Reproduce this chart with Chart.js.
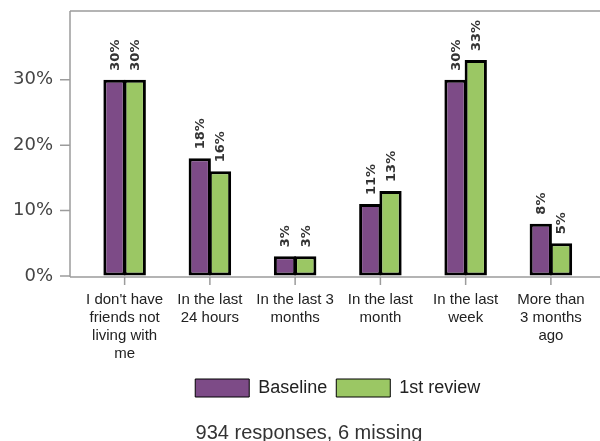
<!DOCTYPE html>
<html>
<head>
<meta charset="utf-8">
<script src="https://cdn.jsdelivr.net/npm/chart.js@4"></script>
<style>
  html, body { margin: 0; padding: 0; background: #fff; }
  #wrap { width: 600px; height: 441px; }
</style>
</head>
<body>
<div id="wrap"><canvas id="chart" width="600" height="441"></canvas></div>
<script>
var categories = [
    ["I don't have", 'friends not', 'living with', 'me'],
    ['In the last', '24 hours'],
    ['In the last 3', 'months'],
    ['In the last', 'month'],
    ['In the last', 'week'],
    ['More than', '3 months', 'ago']
];
var baseline = [30, 18, 3, 11, 30, 8];
var review1 = [30, 16, 3, 13, 33, 5];
var yTicks = [0, 10, 20, 30];
var footerText = '934 responses, 6 missing';

var purple = '#7d4b87';
var green = '#9bc764';
var frameGrey = '#9c9c9c';

Chart.defaults.font.family = '"Liberation Sans", Arial, sans-serif';

// frame, axis ticks and footer
var framePlugin = {
    id: 'frame',
    afterDraw: function (chart) {
        var ctx = chart.ctx;
        var a = chart.chartArea;
        var y = chart.scales.y, x = chart.scales.x;
        var left = a.left - 12;
        ctx.save();
        ctx.strokeStyle = frameGrey;
        ctx.lineWidth = 1.5;
        ctx.beginPath();
        ctx.moveTo(left, a.top);
        ctx.lineTo(chart.width, a.top);
        ctx.moveTo(left, a.top);
        ctx.lineTo(left, a.bottom + 1);
        ctx.moveTo(left, a.bottom + 1);
        ctx.lineTo(chart.width, a.bottom + 1);
        yTicks.forEach(function (v) {
            var py = y.getPixelForValue(v);
            ctx.moveTo(left - 10, py);
            ctx.lineTo(left, py);
        });
        categories.forEach(function (c, i) {
            var px = x.getPixelForValue(i);
            ctx.moveTo(px, a.bottom + 1);
            ctx.lineTo(px, a.bottom + 9);
        });
        ctx.stroke();

        ctx.fillStyle = '#333';
        ctx.font = '20px "Liberation Sans", Arial, sans-serif';
        ctx.textAlign = 'center';
        ctx.textBaseline = 'middle';
        ctx.fillText(footerText, 309, 433);
        ctx.restore();
    }
};

// rotated value labels above bars
var valueLabels = {
    id: 'valueLabels',
    afterDatasetsDraw: function (chart) {
        var ctx = chart.ctx;
        ctx.save();
        ctx.fillStyle = '#333';
        ctx.font = 'bold 13px "DejaVu Sans", sans-serif';
        ctx.textAlign = 'left';
        ctx.textBaseline = 'middle';
        chart.data.datasets.forEach(function (ds, di) {
            chart.getDatasetMeta(di).data.forEach(function (bar, i) {
                ctx.save();
                ctx.translate(bar.x + 1, bar.y - 9);
                ctx.rotate(-Math.PI / 2);
                ctx.fillText(ds.data[i] + '%', 0, 0);
                ctx.restore();
            });
        });
        ctx.restore();
    }
};

new Chart(document.getElementById('chart').getContext('2d'), {
    type: 'bar',
    data: {
        labels: categories,
        datasets: [
            { label: 'Baseline', data: baseline, backgroundColor: purple, borderColor: '#000', borderWidth: 3, borderSkipped: false },
            { label: '1st review', data: review1, backgroundColor: green, borderColor: '#000', borderWidth: 3, borderSkipped: false }
        ]
    },
    options: {
        responsive: false,
        animation: false,
        categoryPercentage: 0.475,
        barPercentage: 1.1,
        layout: { padding: { top: 11, right: 4, bottom: 34, left: 0 } },
        plugins: {
            tooltip: { enabled: false },
            legend: {
                position: 'bottom',
                fullSize: false,
                labels: {
                    boxWidth: 54,
                    boxHeight: 18,
                    padding: 9,
                    color: '#222',
                    font: { size: 18 },
                    generateLabels: function (chart) {
                        var items = Chart.defaults.plugins.legend.labels.generateLabels(chart);
                        items.forEach(function (it) { it.lineWidth = 1; });
                        return items;
                    }
                }
            }
        },
        scales: {
            x: {
                offset: true,
                grid: { display: false, drawTicks: false },
                border: { display: false },
                ticks: { color: '#222', font: { size: 15, lineHeight: 1.2 }, padding: 15, maxRotation: 0, autoSkip: false },
                afterFit: function (s) { s.height -= 8; }
            },
            y: {
                min: 0,
                max: 40.5,
                grid: { drawOnChartArea: false, tickLength: 29, tickColor: 'rgba(0,0,0,0)' },
                border: { display: false },
                afterBuildTicks: function (s) {
                    s.ticks = yTicks.map(function (v) { return { value: v }; });
                },
                afterFit: function (s) { s.width = 82; },
                ticks: {
                    color: '#444',
                    padding: 0,
                    font: { family: '"DejaVu Sans", sans-serif', size: 18 },
                    callback: function (v) { return v + '%'; }
                }
            }
        }
    },
    plugins: [framePlugin, valueLabels]
});
</script>
</body>
</html>
